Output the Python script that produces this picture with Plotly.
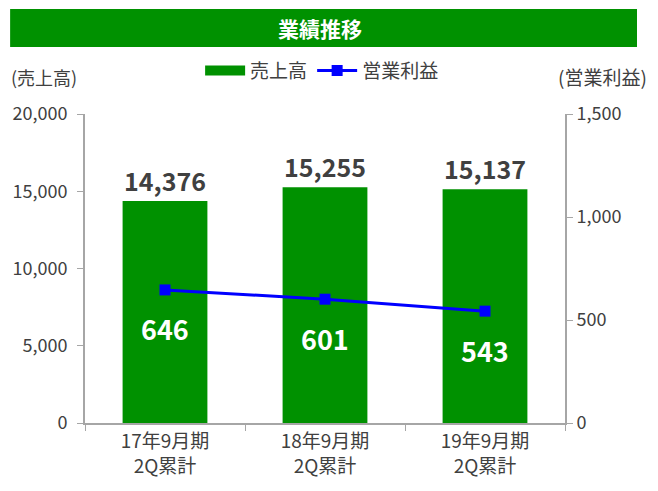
import plotly.graph_objects as go

# data
periods = ['17年9月期<br>2Q累計', '18年9月期<br>2Q累計', '19年9月期<br>2Q累計']
sales = [14376, 15255, 15137]
op_profit = [646, 601, 543]

FONT = 'Noto Sans CJK JP'
GREEN = '#009100'
BLUE = '#0000ff'
AXIS_GRAY = '#a6a6a6'
TXT = '#404040'

fig = go.Figure()

fig.add_trace(go.Bar(
    x=periods, y=sales, name='売上高', showlegend=False,
    marker=dict(color=GREEN, line=dict(width=0)),
    width=0.53,
    text=[f'{v:,}' for v in sales], textposition='outside',
    textfont=dict(family=FONT, size=25, color=TXT),
    texttemplate='<b>%{text}</b>', cliponaxis=False,
))

# legend entry for the bars (wide green swatch like the original)
fig.add_trace(go.Scatter(
    x=[None], y=[None], name='売上高', mode='lines',
    line=dict(color=GREEN, width=10),
))

fig.add_trace(go.Scatter(
    x=periods, y=op_profit, name='営業利益', yaxis='y2',
    mode='lines+markers',
    line=dict(color=BLUE, width=3),
    marker=dict(symbol='square', size=11, color=BLUE),
))

# white labels for operating profit, placed below each point
for p, v in zip(periods, op_profit):
    fig.add_annotation(
        x=p, y=v, xref='x', yref='y2', yshift=-39,
        text=f'<b>{v}</b>', showarrow=False,
        font=dict(family=FONT, size=27, color='white'),
    )

# title banner
fig.add_shape(type='rect', xref='paper', yref='paper',
              x0=-0.156, x1=1.15, y0=1.217, y1=1.34,
              fillcolor=GREEN, line=dict(width=0), layer='below')
fig.add_annotation(xref='paper', yref='paper', x=0.49, y=1.278,
                   xanchor='center', yanchor='middle',
                   text='<b>業績推移</b>', showarrow=False,
                   font=dict(family=FONT, size=21, color='white'))

# axis unit captions
fig.add_annotation(xref='paper', yref='paper', x=-0.158, y=1.12,
                   xanchor='left', yanchor='middle',
                   text='(売上高)', showarrow=False,
                   font=dict(family=FONT, size=18, color=TXT))
fig.add_annotation(xref='paper', yref='paper', x=1.079, y=1.12,
                   xanchor='center', yanchor='middle',
                   text='(営業利益)', showarrow=False,
                   font=dict(family=FONT, size=19, color=TXT))

fig.update_layout(
    width=658, height=491,
    margin=dict(l=77, r=101, t=106, b=76, autoexpand=False),
    paper_bgcolor='white', plot_bgcolor='white',
    font=dict(family=FONT, size=18, color=TXT),
    showlegend=True,
    legend=dict(orientation='h', x=0.494, xanchor='center', y=1.14, yanchor='middle',
                font=dict(family=FONT, size=19, color=TXT),
                itemwidth=40, tracegroupgap=0),
    xaxis=dict(
        automargin=False,
        showline=True, linecolor=AXIS_GRAY, linewidth=2,
        ticks='outside', tickson='boundaries', ticklen=6, tickcolor=AXIS_GRAY,
        showgrid=False, tickfont=dict(size=19, color=TXT),
    ),
    yaxis=dict(
        automargin=False,
        range=[0, 20000], dtick=5000, tickformat=',',
        showline=True, linecolor=AXIS_GRAY, linewidth=2,
        ticks='outside', ticklen=6, tickcolor=AXIS_GRAY, ticklabelstandoff=6,
        showgrid=False, zeroline=False, tickfont=dict(size=18, color=TXT),
    ),
    yaxis2=dict(
        automargin=False,
        range=[0, 1500], dtick=500, tickformat=',',
        overlaying='y', side='right',
        showline=True, linecolor=AXIS_GRAY, linewidth=2,
        ticks='outside', ticklen=6, tickcolor=AXIS_GRAY,
        showgrid=False, zeroline=False, tickfont=dict(size=18, color=TXT),
    ),
)

fig.write_html('out.html')
